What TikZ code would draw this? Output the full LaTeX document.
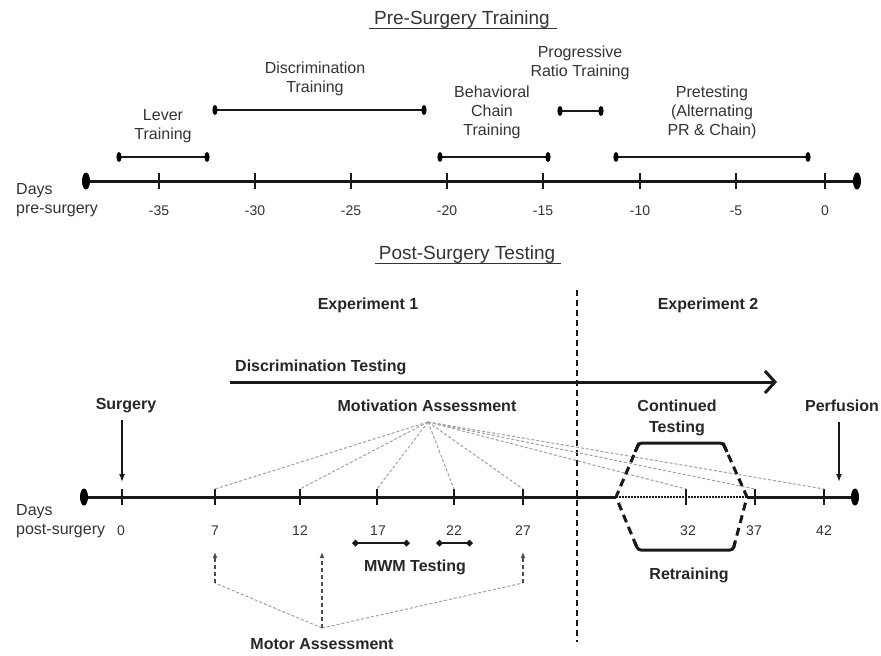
\documentclass[tikz,border=0pt]{standalone}
\usepackage{fontspec}
\setmainfont{Liberation Sans}
\usetikzlibrary{arrows.meta}
\begin{document}
\begin{tikzpicture}[x=1pt,y=-1pt,
  reg/.style={font=\fontsize{16}{19}\selectfont, text=black!80, align=center, inner sep=0pt},
  bld/.style={font=\fontsize{16}{21}\selectfont\bfseries, text=black!85, align=center, inner sep=0pt},
  ttl/.style={font=\fontsize{19}{22}\selectfont, text=black!80, inner sep=0pt, anchor=base},
  tickl/.style={font=\fontsize{14}{16}\selectfont, text=black!80, inner sep=0pt},
  axisline/.style={line width=3pt, black!90},
  tickmark/.style={line width=1.5pt, black!90},
  barline/.style={line width=2.5pt, black!90},
  motivline/.style={gray!75, line width=1pt, dash pattern=on 3pt off 2pt},
  motorline/.style={black!70, line width=1.4pt, dash pattern=on 4pt off 3pt, -{Latex[length=6pt,width=5pt]}},
  hexsolid/.style={line width=3pt, black!90, rounded corners=3pt},
  hexdash/.style={line width=3pt, black!90, dash pattern=on 8pt off 5pt},
  mwmarrow/.style={line width=2.5pt, black!90, {Kite[length=7pt,width=7pt,inset=3.5pt]}-{Kite[length=7pt,width=7pt,inset=3.5pt]}},
  downarrow/.style={line width=1.5pt, black!90, -{Latex[length=8pt,width=6pt]}}
]
\useasboundingbox (0,0) rectangle (881,656);

% ---------------- Pre-surgery ----------------
\node[ttl] (pretitle) at (462,24) {Pre-Surgery Training};
\draw[line width=1pt, black!80] ([xshift=-5pt,yshift=-4pt]pretitle.base west) -- ([xshift=7pt,yshift=-4pt]pretitle.base east);

\coordinate (aL) at (86,181);
\coordinate (aR) at (857,181);
\draw[axisline] (aL) -- (aR);
\fill[black] (aL) ellipse [x radius=4pt, y radius=8.5pt];
\fill[black] (aR) ellipse [x radius=4pt, y radius=8.5pt];

\foreach \x/\l [count=\i] in {159/-35,255/-30,351/-25,447/-20,543/-15,640/-10,736/-5,825/0}{
  \coordinate (pt\i) at (\x,181);
  \draw[tickmark] ([yshift=8pt]pt\i) -- ([yshift=-8pt]pt\i);
  \node[tickl] (ptl\i) at (\x,211) {\l};
}

\node[reg, align=left, anchor=west] (days1) at (16,200.5) {Days\\pre-surgery};

% bars
\foreach \n/\a/\b/\y in {lev/119/207/157, dis/215/424/110, beh/440/548/157, pro/560/601/111, pre/616/808/157}{
  \coordinate (\n A) at (\a,\y);
  \coordinate (\n B) at (\b,\y);
  \draw[barline] (\n A) -- (\n B);
  \fill[black] (\n A) ellipse [x radius=2.6pt, y radius=5pt];
  \fill[black] (\n B) ellipse [x radius=2.6pt, y radius=5pt];
}

\node[reg] (lever) at (163,126.5) {Lever\\Training};
\node[reg] (disc) at (315,79) {Discrimination\\Training};
\node[reg] (behav) at (492,112) {Behavioral\\Chain\\Training};
\node[reg] (prog) at (580,63) {Progressive\\Ratio Training};
\node[reg] (pret) at (712,112) {Pretesting\\(Alternating\\PR \& Chain)};

% ---------------- Post-surgery ----------------
\node[ttl] (posttitle) at (467,259) {Post-Surgery Testing};
\draw[line width=1pt, black!80] ([xshift=-4pt,yshift=-4pt]posttitle.base west) -- ([xshift=6pt,yshift=-4pt]posttitle.base east);

\node[bld] (exp1) at (368,305) {Experiment 1};
\node[bld] (exp2) at (708,305) {Experiment 2};

\coordinate (vdT) at (577,290);
\coordinate (vdB) at (577,642);
\draw[line width=1.6pt, black!90, dash pattern=on 6pt off 4pt] (vdT) -- (vdB);

\node[bld, anchor=west] (disctest) at (235,367) {Discrimination Testing};
\coordinate (dtA) at (230,382);
\coordinate (dtB) at (777,382);
\draw[line width=3pt, black!90, -{Straight Barb[length=10pt,width=22pt]}] (dtA) -- (dtB);

\node[bld] (surgery) at (126,406) {Surgery};
\node[bld] (motiv) at (427,406) {Motivation Assessment};
\node[bld] (perf) at (842,406) {Perfusion};

% bottom axis
\coordinate (bL) at (84,497);
\coordinate (bR) at (855,497);
\coordinate (hxL) at (616,497);
\coordinate (hxR) at (747,497);
\draw[axisline] (bL) -- (hxL);
\draw[axisline] (hxR) -- (bR);
\draw[line width=2pt, black!90, dash pattern=on 1.5pt off 1.5pt] (hxL) -- (hxR);
\fill[black] (bL) ellipse [x radius=4pt, y radius=8.5pt];
\fill[black] (bR) ellipse [x radius=4pt, y radius=8.5pt];

\foreach \x/\lx/\l/\n in {122/121/0/0, 215/215/7/7, 300/300/12/12, 377/378/17/17, 454/454/22/22, 523/523/27/27, 686/688/32/32, 755/754/37/37, 824/824/42/42}{
  \coordinate (bt\n) at (\x,497);
  \coordinate (btu\n) at (\x,489);
  \draw[line width=1.3pt, black!90] (\x,489) -- (\x,505);
  \node[tickl] (btl\n) at (\lx,531) {\l};
}

\node[reg, align=left, anchor=west] (days2) at (16,521) {Days\\post-surgery};

% surgery / perfusion arrows
\coordinate (sgA) at (122,420);
\coordinate (sgB) at (122,482);
\draw[downarrow] (sgA) -- (sgB);
\coordinate (pfA) at (839,422);
\coordinate (pfB) at (839,482);
\draw[downarrow] (pfA) -- (pfB);

% motivation lines
\coordinate (mapex) at (428,422);
\foreach \n in {7,12,17,22,27,32,37,42}{
  \draw[motivline] (mapex) -- (btu\n);
}

% hexagon
\coordinate (hTL) at (639,443);
\coordinate (hTR) at (723,443);
\coordinate (hBL) at (638,550);
\coordinate (hBR) at (733,550);
\draw[hexsolid] (635,452) -- (hTL) -- (hTR) -- (727,452);
\draw[hexsolid] (635,542.6) -- (hBL) -- (hBR) -- (735,542.3);
\draw[hexdash] (hTL) -- (hxL) -- (hBL);
\draw[hexdash] (hTR) -- (hxR) -- (hBR);

\node[bld] (cont) at (677,417.5) {Continued\\Testing};
\node[bld] (retr) at (689,575) {Retraining};

% MWM testing
\coordinate (mw1A) at (352,543);
\coordinate (mw1B) at (410,543);
\coordinate (mw2A) at (436,543);
\coordinate (mw2B) at (473,543);
\draw[mwmarrow] (mw1A) -- (mw1B);
\draw[mwmarrow] (mw2A) -- (mw2B);
\node[bld] (mwm) at (415,567) {MWM Testing};

% motor assessment
\coordinate (mapx) at (322,628);
\coordinate (m1) at (215,583);
\coordinate (m3) at (523,583);
\coordinate (m1t) at (215,552);
\coordinate (m2t) at (322,552);
\coordinate (m3t) at (523,552);
\draw[motivline] (mapx) -- (m1);
\draw[motivline] (mapx) -- (m3);
\draw[motorline] (m1) -- (m1t);
\draw[motorline] (mapx) -- (m2t);
\draw[motorline] (m3) -- (m3t);
\node[bld] (motor) at (322,644) {Motor Assessment};

\end{tikzpicture}
\end{document}
